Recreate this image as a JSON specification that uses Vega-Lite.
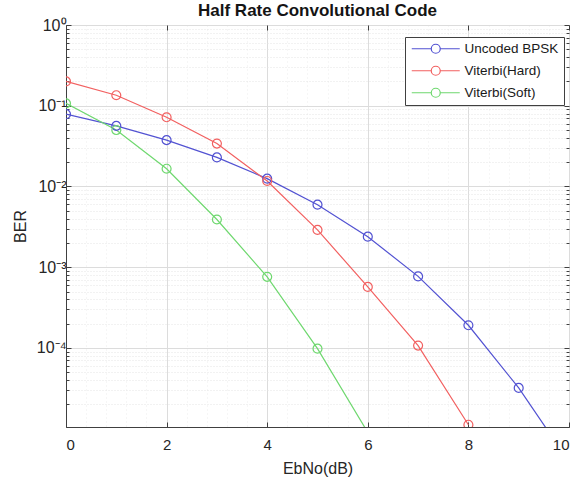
{
  "$schema": "https://vega.github.io/schema/vega-lite/v6.json",
  "width": 503,
  "height": 402,
  "autosize": "none",
  "padding": {"left": 66, "top": 25, "right": 10, "bottom": 50},
  "background": "white",
  "title": {
    "text": "Half Rate Convolutional Code",
    "font": "Liberation Sans",
    "fontSize": 17,
    "fontWeight": "bold",
    "color": "#141414",
    "anchor": "middle",
    "offset": -3
  },
  "data": {
    "values": [
      {"EbNo": 0, "BER": 0.0786, "series": "Uncoded BPSK"},
      {"EbNo": 1, "BER": 0.0563, "series": "Uncoded BPSK"},
      {"EbNo": 2, "BER": 0.0375, "series": "Uncoded BPSK"},
      {"EbNo": 3, "BER": 0.0229, "series": "Uncoded BPSK"},
      {"EbNo": 4, "BER": 0.0125, "series": "Uncoded BPSK"},
      {"EbNo": 5, "BER": 0.00595, "series": "Uncoded BPSK"},
      {"EbNo": 6, "BER": 0.00239, "series": "Uncoded BPSK"},
      {"EbNo": 7, "BER": 0.00077, "series": "Uncoded BPSK"},
      {"EbNo": 8, "BER": 0.000191, "series": "Uncoded BPSK"},
      {"EbNo": 9, "BER": 0.000032, "series": "Uncoded BPSK"},
      {"EbNo": 10, "BER": 0.0000039, "series": "Uncoded BPSK"},
      {"EbNo": 0, "BER": 0.2, "series": "Viterbi(Hard)"},
      {"EbNo": 1, "BER": 0.135, "series": "Viterbi(Hard)"},
      {"EbNo": 2, "BER": 0.072, "series": "Viterbi(Hard)"},
      {"EbNo": 3, "BER": 0.034, "series": "Viterbi(Hard)"},
      {"EbNo": 4, "BER": 0.0117, "series": "Viterbi(Hard)"},
      {"EbNo": 5, "BER": 0.0029, "series": "Viterbi(Hard)"},
      {"EbNo": 6, "BER": 0.00057, "series": "Viterbi(Hard)"},
      {"EbNo": 7, "BER": 0.000107, "series": "Viterbi(Hard)"},
      {"EbNo": 8, "BER": 0.0000112, "series": "Viterbi(Hard)"},
      {"EbNo": 0, "BER": 0.107, "series": "Viterbi(Soft)"},
      {"EbNo": 1, "BER": 0.05, "series": "Viterbi(Soft)"},
      {"EbNo": 2, "BER": 0.0166, "series": "Viterbi(Soft)"},
      {"EbNo": 3, "BER": 0.0039, "series": "Viterbi(Soft)"},
      {"EbNo": 4, "BER": 0.00076, "series": "Viterbi(Soft)"},
      {"EbNo": 5, "BER": 0.000098, "series": "Viterbi(Soft)"},
      {"EbNo": 6, "BER": 0.000009, "series": "Viterbi(Soft)"}
    ]
  },
  "config": {
    "view": {"stroke": "#404040", "strokeWidth": 1},
    "axis": {
      "labelFont": "Liberation Sans",
      "labelFontSize": 15,
      "labelColor": "#262626",
      "titleFont": "Liberation Sans",
      "titleFontSize": 16,
      "titleFontWeight": "normal",
      "titleColor": "#262626",
      "domainColor": "#404040",
      "tickColor": "#404040",
      "gridColor": "#dcdcdc",
      "gridWidth": 1,
      "labelOverlap": false
    }
  },
  "resolve": {"axis": {"x": "independent", "y": "independent"}},
  "layer": [
    {
      "mark": {"type": "line", "clip": true, "strokeWidth": 1.2,
        "point": {"filled": false, "size": 80, "strokeWidth": 1.2}},
      "encoding": {
        "x": {
          "field": "EbNo", "type": "quantitative", "title": "EbNo(dB)",
          "scale": {"domain": [0, 10], "nice": false, "zero": false},
          "axis": {
            "values": [0, 0.4, 0.8, 1.2, 1.6, 2, 2.4, 2.8, 3.2, 3.6, 4, 4.4, 4.8, 5.2, 5.6, 6,
              6.4, 6.8, 7.2, 7.6, 8, 8.4, 8.8, 9.2, 9.6, 10],
            "labelExpr": "datum.value % 2 == 0 ? format(datum.value, 'd') : ''",
            "tickSize": {"condition": {"test": "datum.value % 2 == 0", "value": -5}, "value": 0},
            "gridDash": {"condition": {"test": "datum.value % 2 == 0", "value": []}, "value": [1, 3]},
            "gridColor": {"condition": {"test": "datum.value % 2 == 0", "value": "#dcdcdc"}, "value": "#ececec"},
            "labelPadding": 15,
            "titlePadding": 3
          }
        },
        "y": {
          "field": "BER", "type": "quantitative", "title": "BER",
          "scale": {"type": "log", "domain": [0.0000105, 1], "nice": false},
          "axis": {
            "values": [1, 0.9, 0.8, 0.7, 0.6, 0.5, 0.4, 0.3, 0.2, 0.1,
              0.09, 0.08, 0.07, 0.06, 0.05, 0.04, 0.03, 0.02, 0.01,
              0.009, 0.008, 0.007, 0.006, 0.005, 0.004, 0.003, 0.002, 0.001,
              0.0009, 0.0008, 0.0007, 0.0006, 0.0005, 0.0004, 0.0003, 0.0002, 0.0001,
              0.00009, 0.00008, 0.00007, 0.00006, 0.00005, 0.00004, 0.00003, 0.00002],
            "labelExpr": "datum.value == 1 ? '10⁰' : datum.value == 0.1 ? '10⁻¹' : datum.value == 0.01 ? '10⁻²' : datum.value == 0.001 ? '10⁻³' : datum.value == 0.0001 ? '10⁻⁴' : ''",
            "labelFontSize": 16,
            "tickSize": {"condition": {"test": "indexof([1, 0.1, 0.01, 0.001, 0.0001], datum.value) >= 0", "value": -5}, "value": -3},
            "gridDash": {"condition": {"test": "indexof([1, 0.1, 0.01, 0.001, 0.0001], datum.value) >= 0", "value": []}, "value": [1, 2]},
            "gridColor": {"condition": {"test": "indexof([1, 0.1, 0.01, 0.001, 0.0001], datum.value) >= 0", "value": "#dcdcdc"}, "value": "#e4e4e4"},
            "labelPadding": 5,
            "titlePadding": 8
          }
        },
        "color": {
          "field": "series", "type": "nominal", "title": null,
          "scale": {"domain": ["Uncoded BPSK", "Viterbi(Hard)", "Viterbi(Soft)"], "range": ["#5252d2", "#f26060", "#6fd86f"]},
          "legend": {
            "orient": "none",
            "legendX": 339,
            "legendY": 12,
            "strokeColor": "#404040",
            "fillColor": "white",
            "padding": 5,
            "labelFont": "Liberation Sans",
            "labelFontSize": 13.5,
            "labelColor": "#1a1a1a",
            "symbolType": "M-1,0H2.9M4.7,0H8.6M4.7,0A0.9,0.9,0,1,1,2.9,0A0.9,0.9,0,1,1,4.7,0",
            "symbolSize": 100,
            "symbolStrokeWidth": 1.2,
            "symbolFillColor": "transparent",
            "rowPadding": 7,
            "labelOffset": 41
          }
        }
      }
    },
    {
      "mark": {"type": "point", "opacity": 0},
      "encoding": {
        "x": {
          "field": "EbNo", "type": "quantitative",
          "axis": {"orient": "top", "values": [0, 2, 4, 6, 8, 10], "labels": false, "title": null, "grid": false, "tickSize": -5, "domain": false}
        },
        "y": {
          "field": "BER", "type": "quantitative",
          "scale": {"type": "log"},
          "axis": {"orient": "right", "values": [1, 0.9, 0.8, 0.7, 0.6, 0.5, 0.4, 0.3, 0.2, 0.1,
              0.09, 0.08, 0.07, 0.06, 0.05, 0.04, 0.03, 0.02, 0.01,
              0.009, 0.008, 0.007, 0.006, 0.005, 0.004, 0.003, 0.002, 0.001,
              0.0009, 0.0008, 0.0007, 0.0006, 0.0005, 0.0004, 0.0003, 0.0002, 0.0001,
              0.00009, 0.00008, 0.00007, 0.00006, 0.00005, 0.00004, 0.00003, 0.00002],
            "labels": false, "title": null, "grid": false, "domain": false,
            "tickSize": {"condition": {"test": "indexof([1, 0.1, 0.01, 0.001, 0.0001], datum.value) >= 0", "value": -5}, "value": -3}}
        }
      }
    }
  ]
}
